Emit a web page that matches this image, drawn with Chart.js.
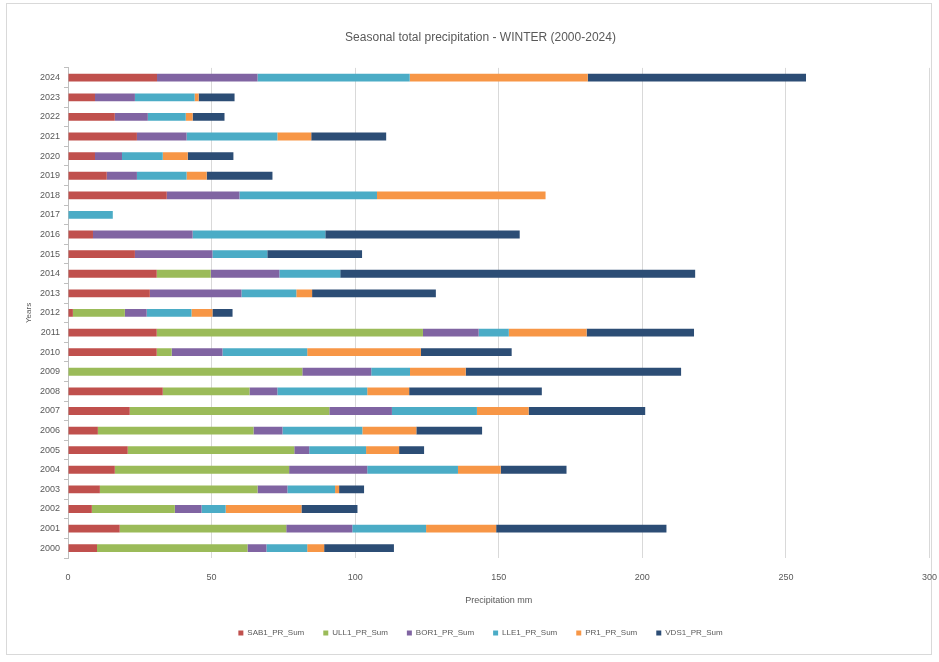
<!DOCTYPE html>
<html>
<head>
<meta charset="utf-8">
<title>Seasonal total precipitation - WINTER</title>
<script src="https://cdn.jsdelivr.net/npm/chart.js@4.4.1/dist/chart.umd.min.js"></script>
<style>
  html, body { margin: 0; padding: 0; background: #fff; }
  #wrap { position: relative; width: 939px; height: 662px; }
  #frame { position: absolute; left: 6px; top: 3px; width: 926px; height: 652px; border: 1px solid #d9d9d9; box-sizing: border-box; }
  #precipChart { position: absolute; left: 0; top: 0; }
</style>
</head>
<body>
<div id="wrap">
  <div id="frame"></div>
  <canvas id="precipChart" width="939" height="662"></canvas>
</div>
<script>
// winter totals per station, newest year first (top row of the chart)
const years = ['2024','2023','2022','2021','2020','2019','2018','2017','2016','2015','2014','2013','2012',
  '2011','2010','2009','2008','2007','2006','2005','2004','2003','2002','2001','2000'];

const sab1 = [31, 9.4, 16.3, 24, 9.4, 13.5, 34.4, 0, 8.7, 23.3, 30.9, 28.5, 1.7, 30.9, 30.9, 0, 33, 21.5, 10.4, 20.8, 16.3, 11.1, 8.3, 18, 10.1];
const ull1 = [0, 0, 0, 0, 0, 0, 0, 0, 0, 0, 18.8, 0, 18.1, 92.7, 5.2, 81.6, 30.2, 69.5, 54.2, 58, 60.7, 54.9, 28.9, 58, 52.4];
const bor1 = [35, 13.9, 11.5, 17.3, 9.4, 10.5, 25.3, 0, 34.7, 27, 23.9, 31.9, 7.6, 19.4, 17.7, 24, 9.7, 21.8, 10.1, 5.2, 27.2, 10.4, 9.3, 23, 6.6];
const lle1 = [53, 20.8, 13.2, 31.6, 14.2, 17.3, 47.9, 15.6, 46.2, 19.1, 21.2, 19.1, 15.6, 10.5, 29.5, 13.5, 31.3, 29.6, 27.8, 19.8, 31.6, 16.6, 8.4, 25.7, 14.2];
const pr1  = [62, 1.4, 2.4, 11.8, 8.7, 7, 58.7, 0, 0, 0, 0, 5.5, 7.3, 27.1, 39.6, 19.4, 14.6, 18, 18.8, 11.5, 14.9, 1.4, 26.4, 24.4, 5.9];
const vds1 = [76, 12.5, 11.1, 26.1, 15.9, 22.9, 0, 0, 67.7, 33, 123.6, 43.1, 7, 37.4, 31.6, 75, 46.2, 40.6, 22.9, 8.7, 22.9, 8.7, 19.5, 59.3, 24.3];

const seriesNames = ['SAB1_PR_Sum', 'ULL1_PR_Sum', 'BOR1_PR_Sum', 'LLE1_PR_Sum', 'PR1_PR_Sum', 'VDS1_PR_Sum'];
const seriesData = [sab1, ull1, bor1, lle1, pr1, vds1];
const seriesColors = ['#c0504d', '#9bbb59', '#8064a2', '#4bacc6', '#f79646', '#2c4d75'];

const xTicks = [0, 50, 100, 150, 200, 250, 300];

const textColor = '#595959';
Chart.defaults.font.family = '"Liberation Sans", Arial, sans-serif';
Chart.defaults.color = textColor;

new Chart(document.getElementById('precipChart').getContext('2d'), {
  type: 'bar',
  data: {
    labels: years,
    datasets: seriesData.map((d, i) => ({
      label: seriesNames[i],
      data: d,
      backgroundColor: seriesColors[i],
      borderWidth: 0,
      categoryPercentage: 0.8,
      barPercentage: 0.5
    }))
  },
  options: {
    indexAxis: 'y',
    responsive: false,
    animation: false,
    layout: { padding: { left: 22, right: 0, top: 6, bottom: 15 } },
    scales: {
      x: {
        stacked: true,
        min: xTicks[0],
        max: xTicks[xTicks.length - 1],
        afterBuildTicks: scale => { scale.ticks = xTicks.map(v => ({ value: v })); },
        afterFit: scale => { scale.height = 52; },
        // invisible tick marks push the labels down without widening the side padding
        grid: { color: '#d9d9d9', drawTicks: true, tickLength: 12, tickColor: 'rgba(0,0,0,0)' },
        border: { display: false },
        ticks: { font: { size: 9 }, color: textColor, padding: 2 },
        title: { display: true, text: 'Precipitation mm', font: { size: 9 }, color: textColor, padding: { top: 6 } }
      },
      y: {
        stacked: true,
        afterFit: scale => { scale.width = 46; },
        grid: { display: true, drawOnChartArea: false, color: '#bfbfbf', tickLength: 4 },
        border: { display: true, color: '#bfbfbf' },
        ticks: { font: { size: 9 }, color: textColor, padding: 4 },
        title: { display: true, text: 'Years', font: { size: 8 }, color: textColor, padding: 2 }
      }
    },
    plugins: {
      title: {
        display: true,
        text: 'Seasonal total precipitation - WINTER (2000-2024)',
        font: { size: 12, weight: 'normal' },
        color: textColor,
        padding: { top: 24, bottom: 23.5 }
      },
      legend: {
        position: 'bottom',
        labels: { boxWidth: 5, boxHeight: 5, font: { size: 8 }, color: textColor, padding: 19 }
      },
      tooltip: { enabled: false }
    }
  }
});
</script>
</body>
</html>
